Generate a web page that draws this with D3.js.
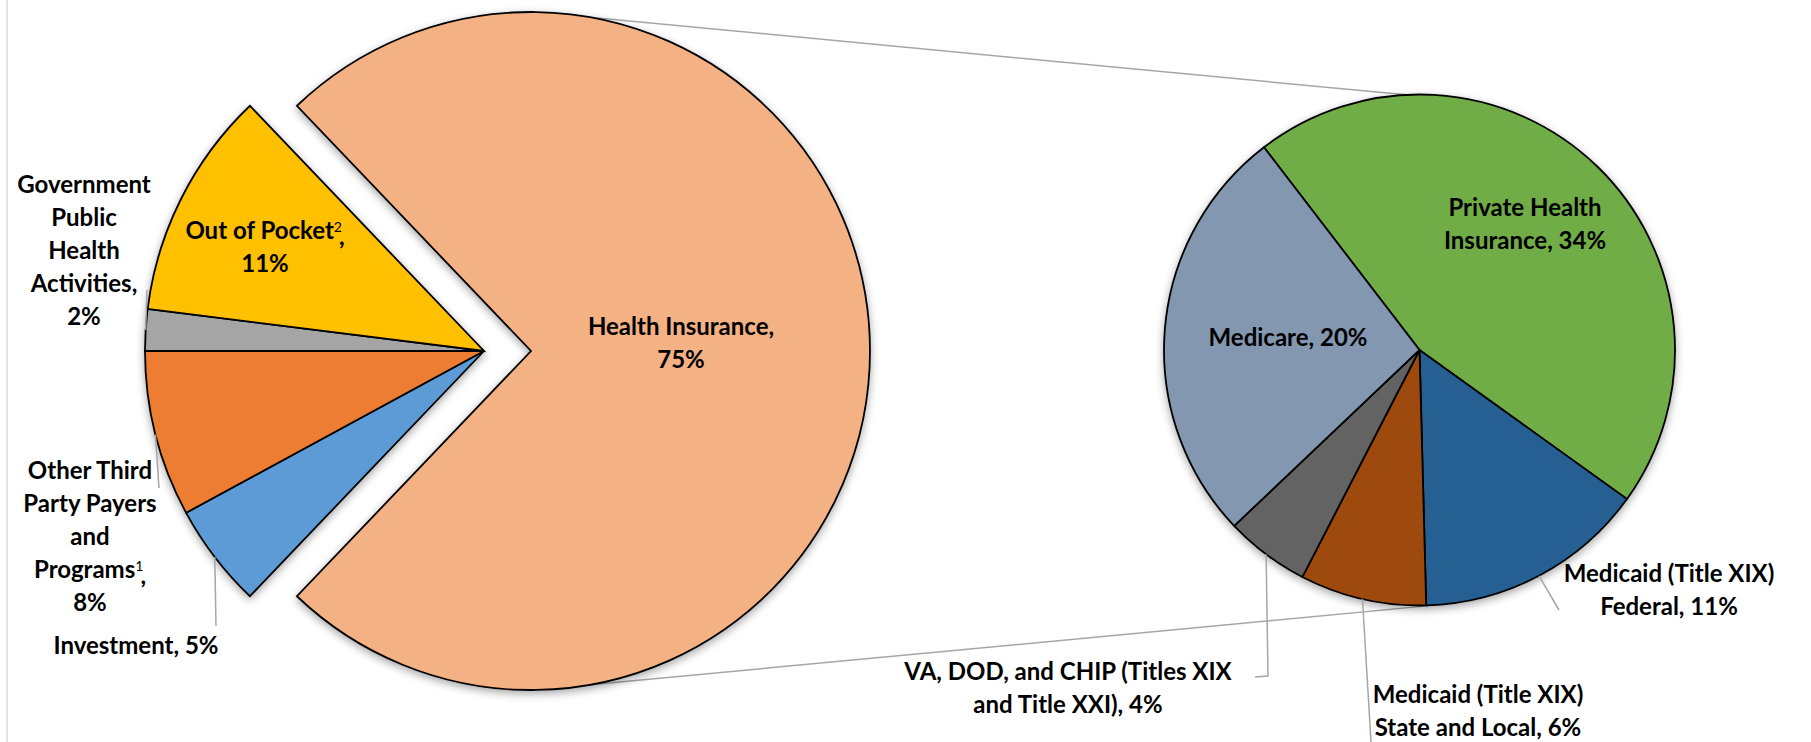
<!DOCTYPE html>
<html>
<head>
<meta charset="utf-8">
<script src="https://cdn.jsdelivr.net/npm/d3@7"></script>
<style>
  html, body { margin: 0; padding: 0; background: #fff; }
  svg { display: block; }
  .label { font-family: Lato, "Open Sans", sans-serif; font-weight: 700; font-size: 24px; fill: #000; }
  .sup { font-weight: 400; font-size: 14px; }
</style>
</head>
<body>
<svg id="chart" width="1811" height="742"></svg>
<script>
// main pie, listed clockwise starting with the exploded slice
const mainCategories = ['Health Insurance', 'Investment', 'Other Third Party Payers and Programs', 'Government Public Health Activities', 'Out of Pocket']
const mainValues = [75, 5, 8, 2, 11]
const mainColors = ['#F4B183', '#5B9BD5', '#ED7D31', '#A5A5A5', '#FFC000']
const mainLabels = [
  ['Health Insurance,', '75%'],
  ['Investment, 5%'],
  ['Other Third', 'Party Payers', 'and', 'Programs^1,', '8%'],
  ['Government', 'Public', 'Health', 'Activities,', '2%'],
  ['Out of Pocket^2,', '11%']
]

// second pie: breakdown of Health Insurance
const subCategories = ['Private Health Insurance', 'Medicaid (Title XIX) Federal', 'Medicaid (Title XIX) State and Local', 'VA, DOD, and CHIP', 'Medicare']
const subValues = [34, 11, 6, 4, 20]
const subColors = ['#70AD47', '#255E91', '#9E480E', '#636363', '#8497B0']
const subLabels = [
  ['Private Health', 'Insurance, 34%'],
  ['Medicaid (Title XIX)', 'Federal, 11%'],
  ['Medicaid (Title XIX)', 'State and Local, 6%'],
  ['VA, DOD, and CHIP (Titles XIX', 'and Title XXI), 4%'],
  ['Medicare, 20%']
]

// layout
const mainC = [484, 351], mainR = 339, explode = 47
const subC = [1419.5, 350], subR = 255.5
const lineH = 33
const mainLabelPos = [[681, 327], [136, 646], [90, 471], [84, 185], [265, 231]]
const subLabelPos = [[1525, 208], [1669, 574], [1478, 695], [1068, 672], [1288, 338]]
// leader lines: label-side points, slice side comes from the arc
const mainLeaders = {1: [[216, 626]], 2: [[159, 488]], 3: [[147, 290]]}
const subLeaders = {1: [[1559, 610]], 2: [[1371, 742]], 3: [[1268, 676], [1255, 677]]}

const rad = Math.PI / 180
const svg = d3.select('#chart')

const defs = svg.append('defs')
defs.append('filter').attr('id', 'shadow')
  .attr('x', '-10%').attr('y', '-10%').attr('width', '120%').attr('height', '120%')
  .append('feDropShadow')
  .attr('dx', 0).attr('dy', 3).attr('stdDeviation', 4)
  .attr('flood-color', '#000').attr('flood-opacity', 0.35)

// left frame line
svg.append('line')
  .attr('x1', 7).attr('x2', 7).attr('y1', 0).attr('y2', 742)
  .attr('stroke', '#D9D9D9').attr('stroke-width', 1.5)

const onCircle = (c, r, a) => [c[0] + r * Math.sin(a), c[1] - r * Math.cos(a)]

// main pie: exploded slice centred on 3 o'clock
const mainTotal = d3.sum(mainValues)
const mainStart = Math.PI / 2 - (mainValues[0] / mainTotal) * Math.PI
const mainArcs = d3.pie().sort(null).value(d => d)
  .startAngle(mainStart).endAngle(mainStart + 2 * Math.PI)(mainValues)

const subArcs = d3.pie().sort(null).value(d => d)
  .startAngle(-37.5 * rad).endAngle(-37.5 * rad + 2 * Math.PI)(subValues)

const mainArc = d3.arc().innerRadius(0).outerRadius(mainR)
const subArc = d3.arc().innerRadius(0).outerRadius(subR)

const mid = d => (d.startAngle + d.endAngle) / 2
const hiMid = mid(mainArcs[0])
const hiC = [mainC[0] + explode * Math.sin(hiMid), mainC[1] - explode * Math.cos(hiMid)]

// connector lines between the two pies
const connectors = [
  [onCircle(hiC, mainR, 10 * rad), onCircle(subC, subR, -3 * rad)],
  [onCircle(hiC, mainR, 170 * rad), onCircle(subC, subR, 176 * rad)]
]
svg.selectAll('line.conn')
  .data(connectors)
  .enter()
  .append('line')
  .attr('class', 'conn')
  .attr('x1', d => d[0][0]).attr('y1', d => d[0][1])
  .attr('x2', d => d[1][0]).attr('y2', d => d[1][1])
  .attr('stroke', '#A6A6A6').attr('stroke-width', 1.5)

function drawSlices(arcs, gen, colors, centre) {
  svg.append('g')
    .attr('filter', 'url(#shadow)')
    .selectAll('path')
    .data(arcs)
    .enter()
    .append('path')
    .attr('transform', (d, i) => {
      const c = (centre === mainC && i === 0) ? hiC : centre
      return 'translate(' + c[0] + ',' + c[1] + ')'
    })
    .attr('d', gen)
    .attr('fill', (d, i) => colors[i])
    .attr('stroke', '#000')
    .attr('stroke-width', 1.8)
    .attr('stroke-linejoin', 'miter')
}

drawSlices(mainArcs, mainArc, mainColors, mainC)
drawSlices(subArcs, subArc, subColors, subC)

function drawLeaders(arcs, leaders, centre, r) {
  Object.keys(leaders).forEach(k => {
    const start = onCircle(centre, r, mid(arcs[k]))
    svg.append('path')
      .attr('d', d3.line()([start].concat(leaders[k])))
      .attr('fill', 'none')
      .attr('stroke', '#A6A6A6').attr('stroke-width', 1.5)
  })
}
drawLeaders(mainArcs, mainLeaders, mainC, mainR)
drawLeaders(subArcs, subLeaders, subC, subR)

function drawLabels(lines, pos) {
  lines.forEach((ls, i) => {
    const t = svg.append('text')
      .attr('class', 'label')
      .attr('text-anchor', 'middle')
    ls.forEach((ln, j) => {
      const y = pos[i][1] + j * lineH
      const m = ln.match(/^(.*)\^(\d)(.*)$/)
      if (!m) {
        t.append('tspan').attr('x', pos[i][0]).attr('y', y).attr('dy', '0.35em').text(ln)
        return
      }
      // superscript footnote mark
      const row = svg.append('text')
        .attr('class', 'label')
        .attr('text-anchor', 'middle')
        .attr('x', pos[i][0]).attr('y', y).attr('dy', '0.35em')
      row.append('tspan').text(m[1])
      row.append('tspan').attr('class', 'sup').attr('dy', '-0.55em').text(m[2])
      row.append('tspan').attr('dx', '-3').attr('dy', '0.55em').text(m[3])
    })
  })
}
drawLabels(mainLabels, mainLabelPos)
drawLabels(subLabels, subLabelPos)
</script>
</body>
</html>
